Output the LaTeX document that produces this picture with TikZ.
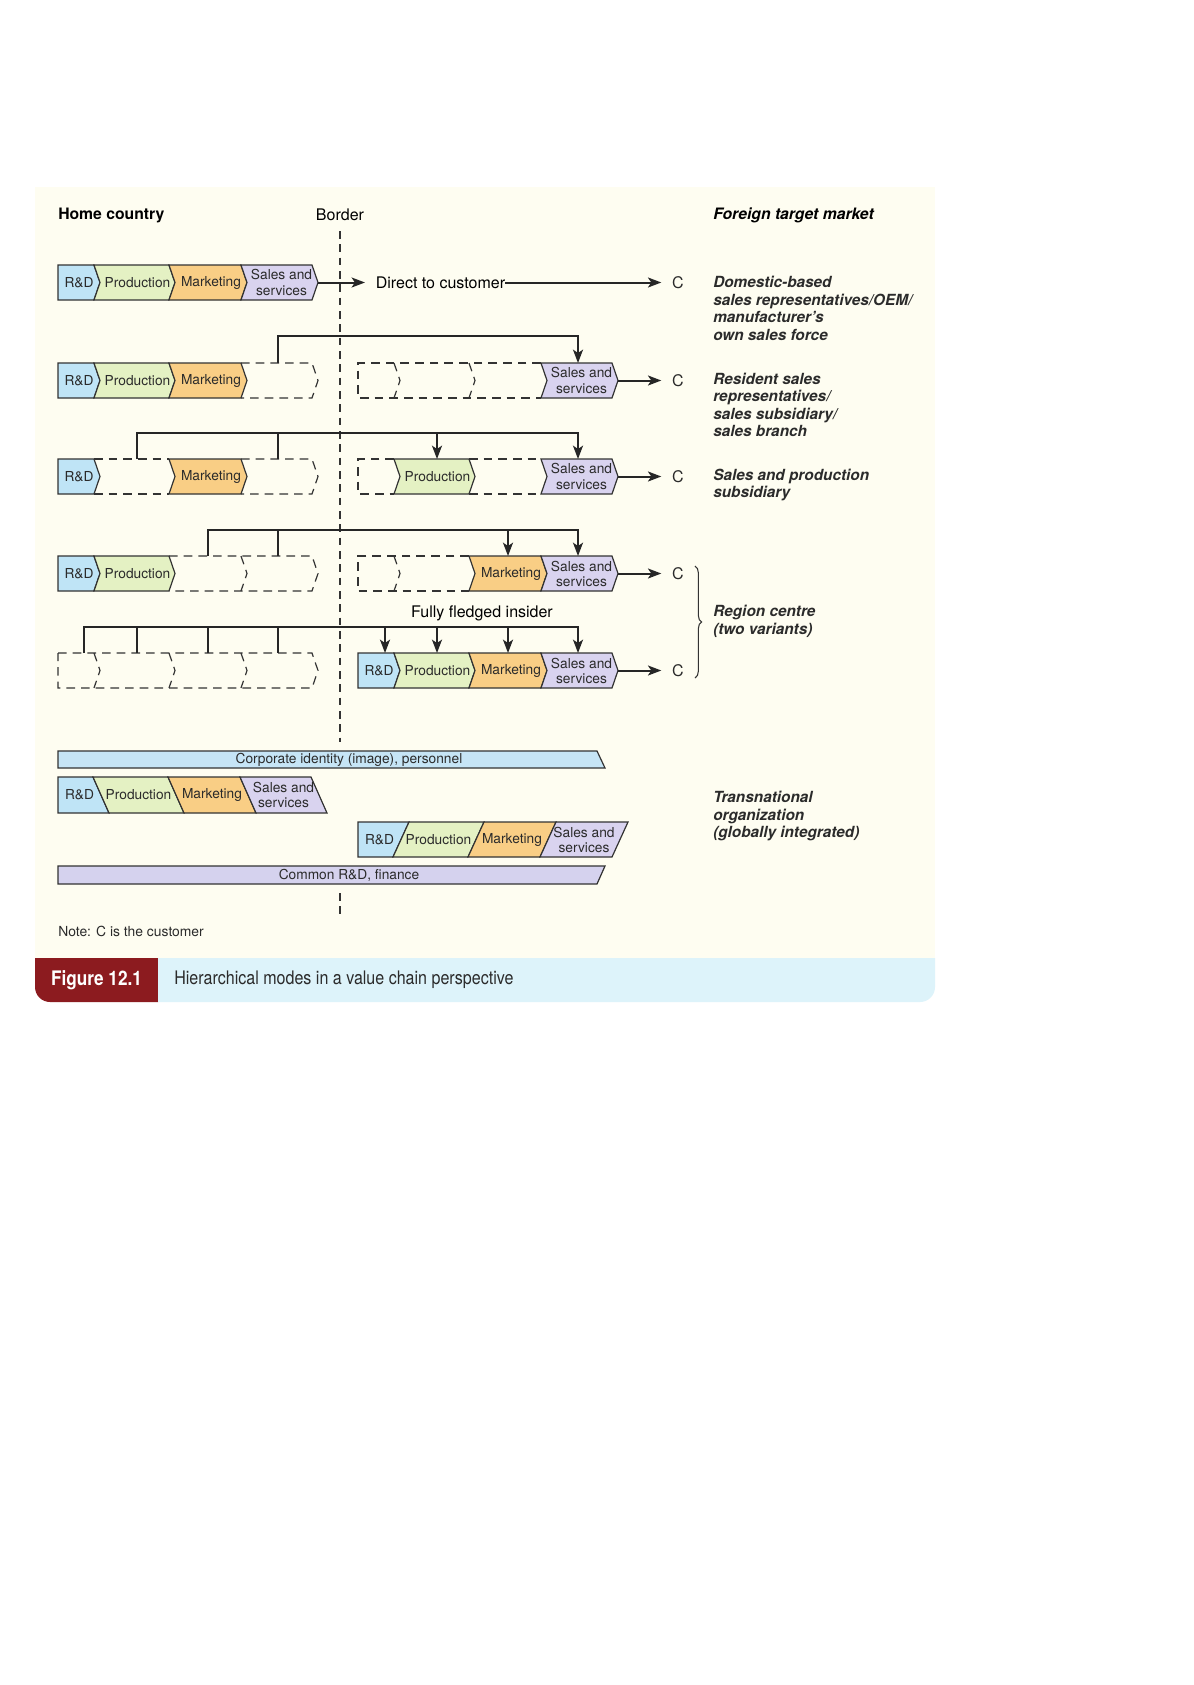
\documentclass[tikz,border=0pt]{standalone}
\usepackage{fontspec}
\setmainfont{TeX Gyre Heros}
\newfontfamily\capfamily[FakeStretch=0.86]{TeX Gyre Heros}
\usepackage{xcolor}
\usepackage{tikz}
\usetikzlibrary{arrows.meta,decorations.pathreplacing}

\definecolor{rdblue}{HTML}{BFE4F6}
\definecolor{prodgreen}{HTML}{E4F1C3}
\definecolor{mktorange}{HTML}{F9CE85}
\definecolor{salesviolet}{HTML}{D9D3EF}
\definecolor{panelcream}{HTML}{FEFDF1}
\definecolor{capblue}{HTML}{DDF3FA}
\definecolor{capred}{HTML}{8C1B1F}
\definecolor{barblue}{HTML}{C6E5F6}
\definecolor{barviolet}{HTML}{D5D2EE}
\definecolor{linegrey}{HTML}{333333}
\definecolor{textgrey}{HTML}{2B2B2B}

\newcommand{\chainfont}{\fontsize{10.3}{11.3}\selectfont}
\newcommand{\labelfont}{\fontsize{11.5}{13.1}\selectfont\bfseries\itshape}
\newcommand{\plainfont}{\fontsize{12}{14}\selectfont}

\begin{document}
\begin{tikzpicture}[x=0.75pt,y=0.75pt,yscale=-1,xscale=1,
  rd/.style={fill=rdblue,draw=linegrey,line width=0.9pt},
  prod/.style={fill=prodgreen,draw=linegrey,line width=0.9pt},
  mkt/.style={fill=mktorange,draw=linegrey,line width=0.9pt},
  sales/.style={fill=salesviolet,draw=linegrey,line width=0.9pt},
  ghost/.style={draw=linegrey,line width=0.9pt,dash pattern=on 6.5pt off 4.5pt},
  wire/.style={draw=black!85,line width=1.5pt},
  headed/.style={-{Stealth[length=10pt,width=7.5pt,inset=2.5pt]}},
  seglbl/.style={font=\chainfont,text=textgrey,inner sep=0pt,align=center},
  cnode/.style={font=\plainfont,text=textgrey,inner xsep=8pt,inner ysep=1pt},
  modelbl/.style={font=\labelfont,text=textgrey,anchor=west,align=left,inner sep=0pt},
  bracestyle/.style={decorate,decoration={brace,amplitude=5pt},draw=linegrey,line width=0.8pt}]
\useasboundingbox (0,0) rectangle (1193,1685);
\fill[white] (0,0) rectangle (1193,1685);

%Shape: panel
\fill[panelcream] (35,187) rectangle (935,958);
%Shape: caption bar
\fill[capred] (35,958) -- (158,958) -- (158,1002) -- (50,1002) arc[start angle=90,end angle=180,radius=15] -- cycle;
\fill[capblue] (158,958) -- (935,958) -- (935,987) arc[start angle=0,end angle=90,radius=15] -- (158,1002) -- cycle;

%Straight Lines: border
\draw[draw=linegrey,line width=1.4pt,dash pattern=on 5.8pt off 4.2pt] (340,231) -- (340,742) (340,893) -- (340,919);

% Text Node
\draw (58,215) node [anchor=west][inner sep=0pt] (home) {\fontsize{11.8}{14}\selectfont\bfseries Home country};
% Text Node
\draw (340,215) node [inner sep=0pt] (border) {\plainfont Border};
% Text Node
\draw (713,215) node [anchor=west][inner sep=0pt] (foreign) {\fontsize{11.8}{14}\selectfont\bfseries\itshape Foreign target market};

%Row 1: direct to customer
\draw[rd] (58,265) -- (94,265) -- (100,282.5) -- (94,300) -- (58,300) -- cycle;
\draw[prod] (94,265) -- (169,265) -- (175,282.5) -- (169,300) -- (94,300) -- (100,282.5) -- cycle;
\draw[mkt] (169,265) -- (241,265) -- (247,282.5) -- (241,300) -- (169,300) -- (175,282.5) -- cycle;
\draw[sales] (241,265) -- (312,265) -- (318,282.5) -- (312,300) -- (241,300) -- (247,282.5) -- cycle;
\draw (79,282.5) node [seglbl] (rd1) {R\&D};
\draw (137.5,282.5) node [seglbl] (prod1) {Production};
\draw (211,282.5) node [seglbl] (mkt1) {Marketing};
\draw (281.5,282.5) node [seglbl] (sales1) {Sales and\\services};
\coordinate (e1) at (318,282.5);
\draw (440.5,282.5) node [inner sep=0pt] (dtc) {\plainfont Direct to customer};
\draw (678,282.5) node [cnode] (c1) {C};
\draw[wire,headed,shorten >=8pt] (e1) -- (dtc);
\draw[wire,headed] (dtc) -- (c1);
\draw (713,308.5) node [modelbl] (mode1) {Domestic-based\\sales representatives/OEM/\\manufacturer's\\own sales force};

%Row 2: resident sales
\draw[rd] (58,363) -- (94,363) -- (100,380.5) -- (94,398) -- (58,398) -- cycle;
\draw[prod] (94,363) -- (169,363) -- (175,380.5) -- (169,398) -- (94,398) -- (100,380.5) -- cycle;
\draw[mkt] (169,363) -- (241,363) -- (247,380.5) -- (241,398) -- (169,398) -- (175,380.5) -- cycle;
\draw[ghost] (241,363) -- (312,363) -- (318,380.5) -- (312,398) -- (241,398);
\draw[ghost] (541,363) -- (358,363) -- (358,398) -- (541,398);
\draw[ghost] (394,363) -- (400,380.5) -- (394,398) (469,363) -- (475,380.5) -- (469,398);
\draw[sales] (541,363) -- (612,363) -- (618,380.5) -- (612,398) -- (541,398) -- (547,380.5) -- cycle;
\draw (79,380.5) node [seglbl] (rd2) {R\&D};
\draw (137.5,380.5) node [seglbl] (prod2) {Production};
\draw (211,380.5) node [seglbl] (mkt2) {Marketing};
\draw (581.5,380.5) node [seglbl] (sales2) {Sales and\\services};
\coordinate (L2sales) at (278,363);
\coordinate (R2sales) at (578,363);
\draw[wire,headed] (L2sales) -- ++(0,-27) -| (R2sales);
\coordinate (e2) at (618,380.5);
\draw (678,380.5) node [cnode] (c2) {C};
\draw[wire,headed] (e2) -- (c2);
\draw (713,405) node [modelbl] (mode2) {Resident sales\\representatives/\\sales subsidiary/\\sales branch};

%Row 3: sales and production subsidiary
\draw[rd] (58,459) -- (94,459) -- (100,476.5) -- (94,494) -- (58,494) -- cycle;
\draw[ghost] (94,459) -- (169,459) (94,494) -- (169,494);
\draw[mkt] (169,459) -- (241,459) -- (247,476.5) -- (241,494) -- (169,494) -- (175,476.5) -- cycle;
\draw[ghost] (241,459) -- (312,459) -- (318,476.5) -- (312,494) -- (241,494);
\draw[ghost] (394,459) -- (358,459) -- (358,494) -- (394,494);
\draw[prod] (394,459) -- (469,459) -- (475,476.5) -- (469,494) -- (394,494) -- (400,476.5) -- cycle;
\draw[ghost] (469,459) -- (541,459) (469,494) -- (541,494);
\draw[sales] (541,459) -- (612,459) -- (618,476.5) -- (612,494) -- (541,494) -- (547,476.5) -- cycle;
\draw (79,476.5) node [seglbl] (rd3) {R\&D};
\draw (211,476.5) node [seglbl] (mkt3) {Marketing};
\draw (437.5,476.5) node [seglbl] (prod3) {Production};
\draw (581.5,476.5) node [seglbl] (sales3) {Sales and\\services};
\coordinate (L3prod) at (137,459);
\coordinate (L3sales) at (278,459);
\coordinate (R3prod) at (437,459);
\coordinate (R3sales) at (578,459);
\coordinate (bus3) at (137,433);
\draw[wire,headed] (L3prod) -- (bus3) -| (R3sales);
\draw[wire] (L3sales) -- (L3sales |- bus3);
\draw[wire,headed] (R3prod |- bus3) -- (R3prod);
\coordinate (e3) at (618,476.5);
\draw (678,476.5) node [cnode] (c3) {C};
\draw[wire,headed] (e3) -- (c3);
\draw (713,485) node [modelbl] (mode3) {Sales and production\\subsidiary};

%Row 4: region centre, first variant
\draw[rd] (58,556) -- (94,556) -- (100,573.5) -- (94,591) -- (58,591) -- cycle;
\draw[prod] (94,556) -- (169,556) -- (175,573.5) -- (169,591) -- (94,591) -- (100,573.5) -- cycle;
\draw[ghost] (169,556) -- (312,556) -- (318,573.5) -- (312,591) -- (169,591);
\draw[ghost] (241,556) -- (247,573.5) -- (241,591);
\draw[ghost] (469,556) -- (358,556) -- (358,591) -- (469,591);
\draw[ghost] (394,556) -- (400,573.5) -- (394,591);
\draw[mkt] (469,556) -- (541,556) -- (547,573.5) -- (541,591) -- (469,591) -- (475,573.5) -- cycle;
\draw[sales] (541,556) -- (612,556) -- (618,573.5) -- (612,591) -- (541,591) -- (547,573.5) -- cycle;
\draw (79,573.5) node [seglbl] (rd4) {R\&D};
\draw (137.5,573.5) node [seglbl] (prod4) {Production};
\draw (511,573.5) node [seglbl] (mkt4) {Marketing};
\draw (581.5,573.5) node [seglbl] (sales4) {Sales and\\services};
\coordinate (L4mkt) at (208,556);
\coordinate (L4sales) at (278,556);
\coordinate (R4mkt) at (508,556);
\coordinate (R4sales) at (578,556);
\coordinate (bus4) at (208,530);
\draw[wire,headed] (L4mkt) -- (bus4) -| (R4sales);
\draw[wire] (L4sales) -- (L4sales |- bus4);
\draw[wire,headed] (R4mkt |- bus4) -- (R4mkt);
\coordinate (e4) at (618,573.5);
\draw (678,573.5) node [cnode] (c4) {C};
\draw[wire,headed] (e4) -- (c4);

%Row 5: fully fledged insider
\draw[ghost] (58,653) -- (312,653) -- (318,670.5) -- (312,688) -- (58,688) -- cycle;
\draw[ghost] (94,653) -- (100,670.5) -- (94,688) (169,653) -- (175,670.5) -- (169,688) (241,653) -- (247,670.5) -- (241,688);
\draw[rd] (358,653) -- (394,653) -- (400,670.5) -- (394,688) -- (358,688) -- cycle;
\draw[prod] (394,653) -- (469,653) -- (475,670.5) -- (469,688) -- (394,688) -- (400,670.5) -- cycle;
\draw[mkt] (469,653) -- (541,653) -- (547,670.5) -- (541,688) -- (469,688) -- (475,670.5) -- cycle;
\draw[sales] (541,653) -- (612,653) -- (618,670.5) -- (612,688) -- (541,688) -- (547,670.5) -- cycle;
\draw (379,670.5) node [seglbl] (rd5) {R\&D};
\draw (437.5,670.5) node [seglbl] (prod5) {Production};
\draw (511,670.5) node [seglbl] (mkt5) {Marketing};
\draw (581.5,670.5) node [seglbl] (sales5) {Sales and\\services};
\draw (482,613) node [inner sep=0pt] (insider) {\plainfont Fully fledged insider};
\coordinate (L5rd) at (84,653);
\coordinate (L5prod) at (137,653);
\coordinate (L5mkt) at (208,653);
\coordinate (L5sales) at (278,653);
\coordinate (R5rd) at (385,653);
\coordinate (R5prod) at (437,653);
\coordinate (R5mkt) at (508,653);
\coordinate (R5sales) at (578,653);
\coordinate (bus5) at (84,627);
\draw[wire,headed] (L5rd) -- (bus5) -| (R5sales);
\draw[wire] (L5prod) -- (L5prod |- bus5) (L5mkt) -- (L5mkt |- bus5) (L5sales) -- (L5sales |- bus5);
\draw[wire,headed] (R5rd |- bus5) -- (R5rd);
\draw[wire,headed] (R5prod |- bus5) -- (R5prod);
\draw[wire,headed] (R5mkt |- bus5) -- (R5mkt);
\coordinate (e5) at (618,670.5);
\draw (678,670.5) node [cnode] (c5) {C};
\draw[wire,headed] (e5) -- (c5);

%Curve Lines: brace for region centre
\draw[bracestyle] (695,566) -- (695,678);
\draw (713,621.5) node [modelbl] (mode4) {Region centre\\(two variants)};

%Transnational organization
\draw[fill=barblue,draw=linegrey,line width=0.9pt] (58,751) -- (597,751) -- (605,768) -- (58,768) -- cycle;
\draw (349,759.5) node [seglbl] (corp) {Corporate identity (image), personnel};
\draw[rd] (58,777) -- (93,777) -- (109,813) -- (58,813) -- cycle;
\draw[prod] (93,777) -- (168,777) -- (184,813) -- (109,813) -- cycle;
\draw[mkt] (168,777) -- (240,777) -- (256,813) -- (184,813) -- cycle;
\draw[sales] (240,777) -- (311,777) -- (327,813) -- (256,813) -- cycle;
\draw (79.5,795) node [seglbl] (rd6) {R\&D};
\draw (138.5,795) node [seglbl] (prod6) {Production};
\draw (212,795) node [seglbl] (mkt6) {Marketing};
\draw (283.5,795) node [seglbl] (sales6) {Sales and\\services};
\draw[rd] (358,822) -- (409,822) -- (393,857) -- (358,857) -- cycle;
\draw[prod] (409,822) -- (484,822) -- (468,857) -- (393,857) -- cycle;
\draw[mkt] (484,822) -- (556,822) -- (540,857) -- (468,857) -- cycle;
\draw[sales] (556,822) -- (628,822) -- (612,857) -- (540,857) -- cycle;
\draw (379.5,839.5) node [seglbl] (rd7) {R\&D};
\draw (438.5,839.5) node [seglbl] (prod7) {Production};
\draw (512,839.5) node [seglbl] (mkt7) {Marketing};
\draw (584,839.5) node [seglbl] (sales7) {Sales and\\services};
\draw[fill=barviolet,draw=linegrey,line width=0.9pt] (58,866) -- (605,866) -- (597,884) -- (58,884) -- cycle;
\draw (349,875) node [seglbl] (common) {Common R\&D, finance};
\draw (713,816) node [modelbl] (mode5) {Transnational\\organization\\(globally integrated)};

% Text Node
\draw (58,931) node [anchor=west][inner sep=0pt] (note) {\fontsize{10.4}{12}\selectfont\color{textgrey}Note: C is the customer};
% Text Node
\draw (96.5,980) node [inner sep=0pt] (fig) {\capfamily\fontsize{15}{18}\selectfont\bfseries\color{white}Figure 12.1};
% Text Node
\draw (174,980) node [anchor=west][inner sep=0pt] (caption) {\capfamily\fontsize{14}{17}\selectfont\color{textgrey}Hierarchical modes in a value chain perspective};

\end{tikzpicture}
\end{document}
